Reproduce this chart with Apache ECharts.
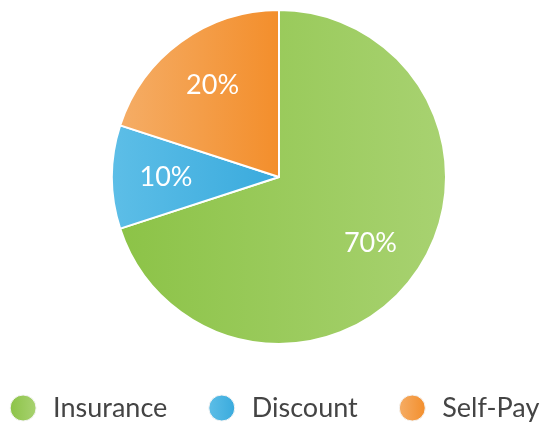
<!DOCTYPE html>
<html>
<head>
<meta charset="utf-8">
<script src="https://cdn.jsdelivr.net/npm/echarts@6/dist/echarts.min.js"></script>
<style>
  html, body { margin: 0; padding: 0; background: #fff; }
  #chart { width: 549px; height: 423px; }
</style>
</head>
<body>
<div id="chart"></div>
<script>
// data
const categories = ['Insurance', 'Discount', 'Self-Pay']
const values = [70, 10, 20]
// left -> right gradient stops per slice
const gradLeft = ['#8cc347', '#5dbee7', '#f5ad66']
const gradRight = ['#a8d271', '#39aadd', '#f38e2b']

function grad(i) {
  return {
    type: 'linear',
    x: 0, y: 0, x2: 1, y2: 0,
    colorStops: [
      { offset: 0, color: gradLeft[i] },
      { offset: 1, color: gradRight[i] },
    ],
  }
}

const pieData = categories.map((name, i) => ({
  name: name,
  value: values[i],
  itemStyle: { color: grad(i) },
}))

const chart = echarts.init(document.getElementById('chart'))
chart.setOption({
  animation: false,
  legend: {
    top: 394,
    left: 'center',
    padding: 0,
    icon: 'circle',
    itemWidth: 26,
    itemHeight: 26,
    itemGap: 41,
    itemStyle: { borderColor: '#f4f4f4', borderWidth: 1 },
    textStyle: {
      fontFamily: 'Lato',
      fontSize: 27,
      lineHeight: 28,
      color: '#444',
      padding: [0, 0, 0, 12],
    },
    data: categories,
  },
  series: [
    {
      type: 'pie',
      center: [279, 177],
      radius: 167,
      startAngle: 90,
      clockwise: true,
      silent: true,
      itemStyle: {
        borderColor: '#fff',
        borderWidth: 2,
      },
      label: { show: false },
      labelLine: { show: false },
      data: pieData,
    },
    {
      // carries the percentage labels only
      type: 'pie',
      center: [279, 177],
      radius: [0, 220],
      startAngle: 90,
      clockwise: true,
      silent: true,
      itemStyle: { color: 'transparent', borderWidth: 0 },
      label: {
        show: true,
        position: 'inside',
        formatter: '{c}%',
        color: '#fff',
        fontFamily: 'Lato',
        fontSize: 27,
      },
      labelLine: { show: false },
      data: categories.map((name, i) => ({ name: name, value: values[i] })),
    },
  ],
})
</script>
</body>
</html>
